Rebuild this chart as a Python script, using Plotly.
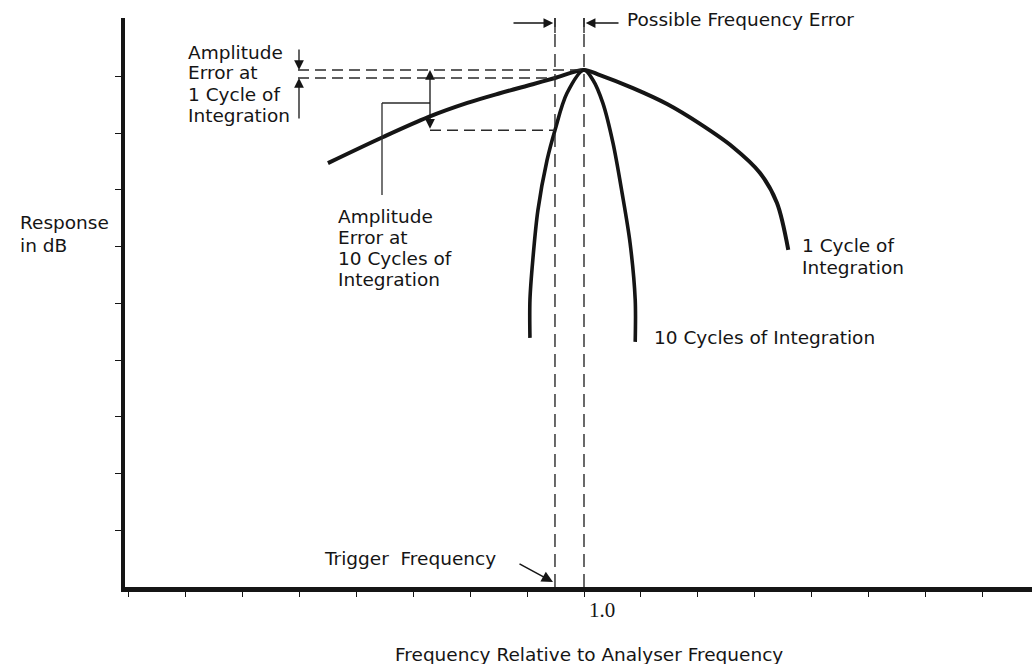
import numpy as np
import plotly.graph_objects as go

# Response curves (frequency relative to analyser frequency, response in dB divisions)
freq_1cycle = [0.550, 0.647, 0.726, 0.795, 0.852, 0.910, 0.949, 1.000, 1.028, 1.086, 1.146, 1.204, 1.262, 1.309, 1.339, 1.359]
resp_1cycle = [7.47, 7.93, 8.28, 8.53, 8.70, 8.86, 8.97, 9.11, 9.02, 8.79, 8.51, 8.16, 7.75, 7.30, 6.77, 5.94]

freq_10cycle = [0.905, 0.905, 0.910, 0.919, 0.935, 0.949, 0.970, 1.000, 1.016, 1.033, 1.051, 1.067, 1.081, 1.090, 1.090]
resp_10cycle = [4.39, 5.06, 5.76, 6.64, 7.52, 8.05, 8.70, 9.11, 8.93, 8.53, 7.82, 6.94, 6.06, 5.06, 4.32]

analyser_freq = 1.0
trigger_freq = 0.949

x_tickvals = [0.2, 0.3, 0.4, 0.5, 0.6, 0.7, 0.8, 0.9, 1.0, 1.1, 1.2, 1.3, 1.4, 1.5, 1.6, 1.7]
x_ticktext = ["", "", "", "", "", "", "", "", "1.0", "", "", "", "", "", "", ""]
y_tickvals = [1, 2, 3, 4, 5, 6, 7, 8, 9]

# Derived levels used by the error markers
peak_level = max(resp_1cycle)
level_1cycle = float(np.interp(trigger_freq, freq_1cycle[:8], resp_1cycle[:8]))
level_10cycle = float(np.interp(trigger_freq, freq_10cycle[:8], resp_10cycle[:8]))

# Plot geometry (pixels) and pixel -> data / paper helpers for annotation placement
W, H = 1032, 664
L, R, T, B = 125, 0, 18, 77
X_ORIGIN_PX, X_UNIT_PX = 584, 569.0   # x = 1.0 at 584 px, 0.1 per 56.9 px
Y_ORIGIN_PX, Y_UNIT_PX = 587, 56.75   # y = 0 at axis line, one division per 56.75 px


def fx(px):
    return 1 + (px - X_ORIGIN_PX) / X_UNIT_PX


def fy(py):
    return (Y_ORIGIN_PX - py) / Y_UNIT_PX


def paper_x(px):
    return (px - L) / (W - L - R)


def paper_y(py):
    return (H - B - py) / (H - T - B)


INK = "#151515"
FONT = "DejaVu Sans"
FS = 18.5

fig = go.Figure()
fig.add_trace(go.Scatter(x=freq_1cycle, y=resp_1cycle, mode="lines",
                         line=dict(color=INK, width=4, shape="spline", smoothing=0.9),
                         name="1 Cycle of Integration", hoverinfo="skip"))
fig.add_trace(go.Scatter(x=freq_10cycle, y=resp_10cycle, mode="lines",
                         line=dict(color=INK, width=3.6, shape="spline", smoothing=0.9),
                         name="10 Cycles of Integration", hoverinfo="skip"))

shapes = []
dash_v = dict(color="#2a2a2a", width=1.4, dash="13px,7px")
dash_h = dict(color="#2a2a2a", width=1.5, dash="11px,6px")
y_top = fy(T)

# Vertical guides at trigger and analyser frequency
for xv in (trigger_freq, analyser_freq):
    shapes.append(dict(type="line", xref="x", yref="y", x0=xv, x1=xv, y0=0, y1=y_top, line=dash_v))
    shapes.append(dict(type="line", xref="x", yref="y", x0=xv, x1=xv, y0=fy(33), y1=y_top,
                       line=dict(color="#2a2a2a", width=1.4)))

# Horizontal guides for the amplitude errors
x_left_guides = fx(298)
x_mid_guides = fx(430)
shapes.append(dict(type="line", xref="x", yref="y", x0=x_left_guides, x1=analyser_freq,
                   y0=peak_level, y1=peak_level, line=dash_h))
shapes.append(dict(type="line", xref="x", yref="y", x0=x_left_guides, x1=trigger_freq,
                   y0=level_1cycle, y1=level_1cycle, line=dash_h))
shapes.append(dict(type="line", xref="x", yref="y", x0=x_mid_guides, x1=trigger_freq,
                   y0=level_10cycle, y1=level_10cycle, line=dash_h))

# Leader line to the 10-cycle error label
thin = dict(color="#2a2a2a", width=1.3)
shapes.append(dict(type="line", xref="x", yref="y", x0=fx(382), x1=x_mid_guides,
                   y0=fy(103), y1=fy(103), line=thin))
shapes.append(dict(type="line", xref="x", yref="y", x0=fx(382), x1=fx(382),
                   y0=fy(103), y1=fy(195), line=thin))

annotations = []


def arrow(x_tip, y_tip, x_tail, y_tail, both=False, width=1.3):
    annotations.append(dict(x=x_tip, y=y_tip, ax=x_tail, ay=y_tail, xref="x", yref="y",
                            axref="x", ayref="y", text="", showarrow=True, arrowhead=2,
                            arrowsize=1.5, arrowwidth=width, arrowcolor=INK,
                            arrowside="end+start" if both else "end", standoff=0, startstandoff=0))


x_err1 = fx(299)
arrow(x_err1, peak_level, x_err1, fy(48))
arrow(x_err1, level_1cycle, x_err1, fy(120))
arrow(x_mid_guides, peak_level, x_mid_guides, level_10cycle, both=True)
arrow(trigger_freq - 0.003, fy(23), fx(512), fy(23))
arrow(analyser_freq + 0.003, fy(23), fx(620), fy(23))
arrow(fx(553), fy(582), fx(518), fy(563), width=1.5)


def text_block(lines, px_left, py_first, spacing=21, size=FS, anchor="left"):
    for i, line in enumerate(lines):
        annotations.append(dict(x=paper_x(px_left), y=paper_y(py_first + i * spacing),
                                xref="paper", yref="paper",
                                text=line, showarrow=False, xanchor=anchor, yanchor="middle",
                                font=dict(family=FONT, size=size, color=INK)))


text_block(["Amplitude", "Error at", "1 Cycle of", "Integration"], 186, 52)
text_block(["Amplitude", "Error at", "10 Cycles of", "Integration"], 336, 216)
text_block(["Response", "in dB"], 18, 223, spacing=22)
text_block(["1 Cycle of", "Integration"], 800, 245, spacing=22)
text_block(["10 Cycles of Integration"], 652, 337)
text_block(["Trigger\u00a0\u00a0Frequency"], 322, 558)
text_block(["Possible Frequency Error"], 625, 20)
text_block(["Frequency Relative to Analyser Frequency"], 589, 654, anchor="center")

fig.update_layout(
    width=W, height=H,
    margin=dict(l=L, r=R, t=T, b=B, pad=0),
    paper_bgcolor="white", plot_bgcolor="white",
    showlegend=False,
    shapes=shapes, annotations=annotations,
    xaxis=dict(range=[fx(L), fx(W)], showgrid=False, zeroline=False,
               showline=True, linecolor=INK, linewidth=5,
               tickmode="array", tickvals=x_tickvals, ticktext=x_ticktext,
               ticks="outside", ticklen=5, tickwidth=1.3, tickcolor=INK,
               ticklabelshift=18, ticklabelstandoff=-5,
               tickfont=dict(family="Liberation Serif", size=21, color=INK)),
    yaxis=dict(range=[0, fy(T)], showgrid=False, zeroline=False,
               showline=True, linecolor=INK, linewidth=4,
               tickmode="array", tickvals=y_tickvals, showticklabels=False,
               ticks="outside", ticklen=6, tickwidth=1.3, tickcolor=INK),
)

fig.write_html("out.html")
